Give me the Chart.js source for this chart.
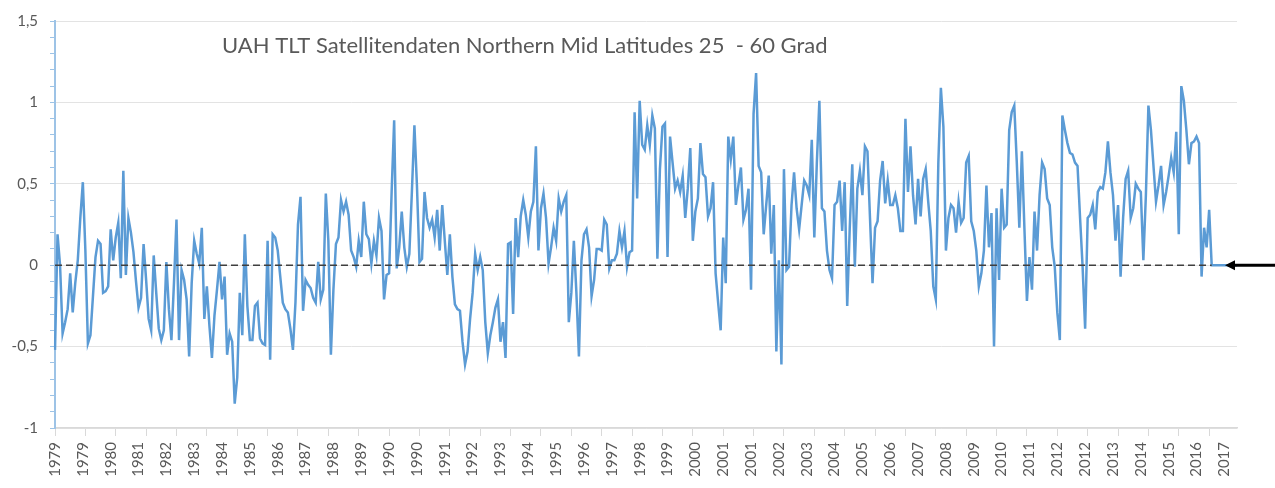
<!DOCTYPE html>
<html>
<head>
<meta charset="utf-8">
<title>UAH TLT Northern Mid Latitudes</title>
<script src="https://cdn.jsdelivr.net/npm/chart.js@4.4.0/dist/chart.umd.min.js"></script>
<style>
    html, body { margin: 0; padding: 0; background: #ffffff; }
    #wrap { width: 1275px; height: 488px; position: relative; }
</style>
</head>
<body>
<div id="wrap"><canvas id="graphCanvas"></canvas></div>
<script>
// monthly anomalies (deg C), Jan of first year .. Dec of last year
var anom1979to1988 = [
    -0.52, 0.19, 0.00, -0.42, -0.35, -0.27, -0.05, -0.29, -0.11, 0.03, 0.29, 0.51,
    0.09, -0.48, -0.43, -0.19, 0.05, 0.15, 0.13, -0.17, -0.16, -0.13, 0.22, 0.03,
    0.17, 0.26, -0.08, 0.58, -0.06, 0.29, 0.20, 0.08, -0.10, -0.26, -0.20, 0.13,
    -0.09, -0.33, -0.40, 0.06, -0.17, -0.39, -0.46, -0.40, 0.02, -0.27, -0.46, -0.11,
    0.28, -0.46, -0.03, -0.09, -0.21, -0.56, -0.11, 0.15, 0.07, 0.01, 0.23, -0.33,
    -0.13, -0.37, -0.57, -0.31, -0.15, 0.02, -0.21, -0.07, -0.55, -0.42, -0.47, -0.85,
    -0.69, -0.17, -0.43, 0.19, -0.25, -0.46, -0.46, -0.25, -0.23, -0.45, -0.48, -0.49,
    0.15, -0.58, 0.19, 0.17, 0.09, -0.07, -0.23, -0.27, -0.29, -0.39, -0.52, -0.23,
    0.25, 0.42, -0.28, -0.09, -0.12, -0.14, -0.20, -0.23, 0.02, -0.21, -0.15, 0.44,
    0.15, -0.55, -0.15, 0.13, 0.17, 0.40, 0.33, 0.39, 0.31, 0.09, 0.05, -0.01
];
var anom1989to1998 = [
    0.15, 0.05, 0.39, 0.19, 0.16, 0.01, 0.15, 0.06, 0.29, 0.21, -0.21, -0.06,
    -0.05, 0.45, 0.89, -0.02, 0.11, 0.33, 0.11, -0.01, 0.07, 0.45, 0.86, 0.49,
    0.02, 0.04, 0.45, 0.29, 0.23, 0.28, 0.17, 0.34, 0.09, 0.37, 0.15, -0.06,
    0.19, -0.07, -0.24, -0.27, -0.28, -0.47, -0.61, -0.53, -0.33, -0.17, 0.07, -0.03,
    0.05, -0.03, -0.35, -0.54, -0.43, -0.35, -0.26, -0.21, -0.47, -0.35, -0.57, 0.13,
    0.14, -0.30, 0.29, 0.05, 0.30, 0.40, 0.31, 0.17, 0.33, 0.39, 0.73, 0.09,
    0.35, 0.44, 0.29, 0.01, 0.11, 0.23, 0.15, 0.41, 0.33, 0.39, 0.43, -0.35,
    -0.17, 0.15, -0.17, -0.56, 0.03, 0.19, 0.22, 0.11, -0.19, -0.09, 0.10, 0.10,
    0.09, 0.28, 0.25, -0.02, 0.03, 0.03, 0.07, 0.21, 0.11, 0.21, -0.01, 0.08,
    0.09, 0.94, 0.41, 1.01, 0.74, 0.71, 0.86, 0.74, 0.92, 0.84, 0.04, 0.59
];
var anom1999to2008 = [
    0.85, 0.87, 0.05, 0.79, 0.63, 0.47, 0.52, 0.45, 0.55, 0.29, 0.47, 0.72,
    0.15, 0.33, 0.41, 0.75, 0.56, 0.54, 0.30, 0.35, 0.51, -0.05, -0.23, -0.40,
    0.17, -0.11, 0.79, 0.65, 0.79, 0.37, 0.49, 0.60, 0.28, 0.34, 0.47, -0.15,
    0.93, 1.18, 0.61, 0.57, 0.19, 0.37, 0.55, 0.07, 0.37, -0.53, 0.03, -0.61,
    0.59, -0.03, -0.01, 0.37, 0.57, 0.35, 0.22, 0.37, 0.52, 0.49, 0.43, 0.77,
    0.17, 0.63, 1.01, 0.35, 0.33, 0.09, -0.03, -0.08, 0.37, 0.39, 0.52, 0.21,
    0.51, -0.25, 0.23, 0.62, -0.01, 0.47, 0.58, 0.43, 0.73, 0.70, 0.29, -0.11,
    0.23, 0.27, 0.52, 0.64, 0.38, 0.52, 0.37, 0.37, 0.43, 0.35, 0.21, 0.21,
    0.90, 0.45, 0.73, 0.43, 0.25, 0.53, 0.30, 0.53, 0.59, 0.39, 0.21, -0.13,
    -0.21, 0.63, 1.09, 0.85, 0.09, 0.29, 0.37, 0.35, 0.20, 0.39, 0.26, 0.29
];
var anom2009to2017 = [
    0.63, 0.67, 0.27, 0.21, 0.09, -0.13, -0.05, 0.09, 0.49, 0.11, 0.32, -0.50,
    0.35, -0.09, 0.47, 0.23, 0.25, 0.83, 0.94, 0.98, 0.63, 0.23, 0.70, 0.23,
    -0.22, 0.05, -0.15, 0.33, 0.09, 0.43, 0.63, 0.59, 0.41, 0.37, 0.11, -0.01,
    -0.29, -0.46, 0.92, 0.83, 0.75, 0.69, 0.68, 0.63, 0.61, 0.29, -0.01, -0.39,
    0.29, 0.31, 0.37, 0.22, 0.45, 0.48, 0.47, 0.57, 0.76, 0.57, 0.43, 0.15,
    0.37, -0.07, 0.29, 0.53, 0.58, 0.29, 0.35, 0.50, 0.47, 0.45, 0.03, 0.43,
    0.98, 0.83, 0.61, 0.39, 0.49, 0.61, 0.37, 0.45, 0.55, 0.66, 0.57, 0.82,
    0.19, 1.10, 1.01, 0.83, 0.62, 0.75, 0.76, 0.79, 0.75, -0.07, 0.23, 0.11,
    0.34, 0.00, 0.00, 0.00, 0.00, 0.00, 0.00, 0.00, 0.00, 0.00, 0.00, 0.00
];
// months that carry real data (the rest of the last year is a flat 0 line)
var lastDataMonth = 457;

var firstYear = 1979;
var lastYear = 2017;

// year labels as printed under the axis (one every 11 months)
var tickYears = [1979, 1979, 1980, 1981, 1982, 1983, 1984, 1985, 1986, 1987, 1988,
    1989, 1990, 1990, 1991, 1992, 1993, 1994, 1995, 1996, 1997, 1998, 1999, 2000,
    2001, 2001, 2002, 2003, 2004, 2005, 2006, 2007, 2008, 2009, 2010, 2011, 2012,
    2012, 2013, 2014, 2015, 2016, 2017];
var labelEvery = 11;
var tickEvery = 12;

var chartTitle = 'UAH TLT Satellitendaten Northern Mid Latitudes 25  - 60 Grad';

var months = [];
for (var y = firstYear; y <= lastYear; y++) {
    for (var m = 1; m <= 12; m++) {
        months.push(y + '-' + (m < 10 ? '0' + m : m));
    }
}
var anomaly = anom1979to1988.concat(anom1989to1998, anom1999to2008, anom2009to2017);
var zeroLine = [];
for (var i in anomaly) {
    zeroLine.push(i <= lastDataMonth ? 0 : null);
}

function isHalfStep(v) {
    return Math.abs(v * 2 - Math.round(v * 2)) < 1e-6;
}

// title written inside the plot + the black arrow at the right end of the zero line
var overlay = {
    id: 'overlay',
    afterDraw: function (chart) {
        var ctx = chart.ctx;
        var area = chart.chartArea;
        ctx.save();
        ctx.fillStyle = '#595959';
        ctx.font = '22px Lato';
        ctx.textBaseline = 'middle';
        ctx.fillText(chartTitle, area.left + 167, area.top + 25);

        var y0 = chart.scales.y.getPixelForValue(0);
        var tip = area.right - 12;
        ctx.strokeStyle = '#000000';
        ctx.fillStyle = '#000000';
        ctx.lineWidth = 3;
        ctx.beginPath();
        ctx.moveTo(tip + 6, y0);
        ctx.lineTo(chart.width, y0);
        ctx.stroke();
        ctx.beginPath();
        ctx.moveTo(tip, y0);
        ctx.lineTo(tip + 10, y0 - 5);
        ctx.lineTo(tip + 10, y0 + 5);
        ctx.closePath();
        ctx.fill();
        ctx.restore();
    }
};

var graphTarget = document.getElementById('graphCanvas');
var LineGraph = new Chart(graphTarget, {
    type: 'line',
    data: {
        labels: months,
        datasets: [
            {
                label: 'Null',
                data: zeroLine,
                borderColor: '#3f3f3f',
                borderWidth: 1.5,
                borderDash: [7, 4],
                pointRadius: 0,
                fill: false,
                order: 0
            },
            {
                label: 'UAH TLT NoMid',
                data: anomaly,
                borderColor: '#5b9bd5',
                borderWidth: 2.5,
                pointRadius: 0,
                tension: 0,
                fill: false,
                order: 1
            }
        ]
    },
    options: {
        responsive: true,
        maintainAspectRatio: false,
        animation: false,
        layout: { padding: { left: 0, right: 38, top: 8, bottom: 0 } },
        plugins: {
            legend: { display: false },
            tooltip: { enabled: false }
        },
        scales: {
            x: {
                type: 'category',
                offset: false,
                afterFit: function (s) { s.height = 60; },
                grid: {
                    display: true,
                    drawOnChartArea: false,
                    drawTicks: true,
                    tickLength: 8,
                    tickColor: function (c) {
                        return c.index % tickEvery === 0 ? '#d9d9d9' : 'rgba(0,0,0,0)';
                    }
                },
                border: { display: true, color: '#d9d9d9', width: 1.5 },
                ticks: {
                    autoSkip: false,
                    minRotation: 90,
                    maxRotation: 90,
                    padding: 6,
                    color: '#595959',
                    font: { family: 'Lato', size: 15 },
                    callback: function (value, index) {
                        return index % labelEvery === 0 ? String(tickYears[index / labelEvery]) : '';
                    }
                }
            },
            y: {
                min: -1,
                max: 1.5,
                afterFit: function (s) { s.width = 55; },
                grid: {
                    drawTicks: true,
                    tickLength: 5,
                    tickColor: '#9dc3e6',
                    color: function (c) {
                        return c.tick && isHalfStep(c.tick.value) ? '#e3e3e3' : 'rgba(0,0,0,0)';
                    }
                },
                border: { display: true, color: '#9dc3e6', width: 2 },
                ticks: {
                    stepSize: 0.1,
                    autoSkip: false,
                    padding: 12,
                    color: '#595959',
                    font: { family: 'Lato', size: 15 },
                    callback: function (value) {
                        if (!isHalfStep(value)) return '';
                        return String(Math.round(value * 10) / 10).replace('.', ',');
                    }
                }
            }
        }
    },
    plugins: [overlay]
});
</script>
</body>
</html>
